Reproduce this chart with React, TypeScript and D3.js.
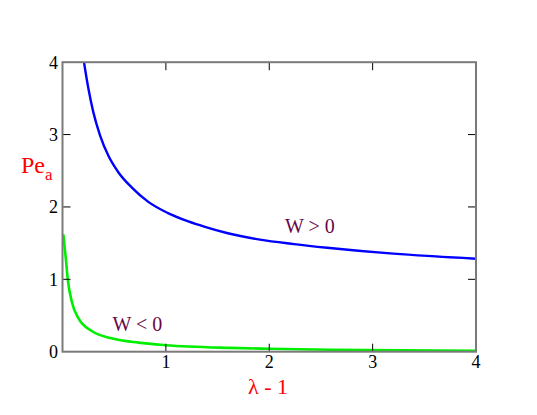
import React from "react";
import * as d3 from "d3";

const xTicks = [0, 1, 2, 3, 4];
const yTicks = [0, 1, 2, 3, 4];

const blueX = [0.19, 0.208, 0.25, 0.298, 0.363, 0.443, 0.54, 0.669, 0.83, 1.02, 1.217, 1.378, 1.59, 1.91, 2.24, 2.56, 3.2, 4.0];
const blueY = [4.17, 4.0, 3.64, 3.31, 2.99, 2.71, 2.48, 2.27, 2.07, 1.915, 1.80, 1.725, 1.64, 1.548, 1.487, 1.437, 1.355, 1.285];

const greenX = [0.008, 0.032, 0.051, 0.09, 0.155, 0.283, 0.476, 0.734, 1.0, 1.62, 2.0, 2.59, 4.0];
const greenY = [1.62, 1.29, 1.0, 0.69, 0.46, 0.286, 0.185, 0.125, 0.09, 0.053, 0.041, 0.027, 0.012];

const W = 537;
const H = 415;

export default function App() {
  const x = d3.scaleLinear().domain([0, 4]).range([62.5, 476]);
  const y = d3.scaleLinear().domain([0, 4]).range([351.7, 62.2]);

  const line = d3
    .line<[number, number]>()
    .x((d) => x(d[0]))
    .y((d) => y(d[1]))
    .curve(d3.curveMonotoneX);

  const blue = blueX.map((v, i) => [v, blueY[i]] as [number, number]);
  const green = greenX.map((v, i) => [v, greenY[i]] as [number, number]);

  const x0 = x(0), x1 = x(4), y0 = y(0), y1 = y(4);
  const font = "'Liberation Serif', 'Times New Roman', Times, serif";
  const maroon = "#670748";

  return (
    <svg
      width={W}
      height={H}
      style={{ position: "absolute", left: 0, top: 0, background: "#fff", fontFamily: font }}
    >
      <rect x={0} y={0} width={W} height={H} fill="#fff" />
      <defs>
        <clipPath id="plot">
          <rect x={x0} y={y1} width={x1 - x0} height={y0 - y1} />
        </clipPath>
      </defs>
      <g clipPath="url(#plot)">
        <path d={line(blue) || ""} fill="none" stroke="#0000ff" strokeWidth={2.4} />
        <path d={line(green) || ""} fill="none" stroke="#00ee00" strokeWidth={2.6} />
      </g>
      {xTicks.slice(1, -1).map((t) => (
        <g key={"xt" + t}>
          <line x1={x(t)} x2={x(t)} y1={y0} y2={y0 - 8} stroke="#000" strokeWidth={1} />
          <line x1={x(t)} x2={x(t)} y1={y1} y2={y1 + 8} stroke="#000" strokeWidth={1} />
        </g>
      ))}
      {yTicks.slice(1, -1).map((t) => (
        <g key={"yt" + t}>
          <line x1={x0} x2={x0 + 8} y1={y(t)} y2={y(t)} stroke="#000" strokeWidth={1} />
          <line x1={x1} x2={x1 - 8} y1={y(t)} y2={y(t)} stroke="#000" strokeWidth={1} />
        </g>
      ))}
      <rect
        x={x0}
        y={y1}
        width={x1 - x0}
        height={y0 - y1}
        fill="none"
        stroke="#7a7a7a"
        strokeWidth={2}
      />
      {xTicks.slice(1).map((t) => (
        <text key={"xl" + t} x={x(t)} y={y0 + 16.5} textAnchor="middle" fontSize={18} fill="#000" style={{ fontFamily: font }}>
          {t}
        </text>
      ))}
      {yTicks.map((t) => (
        <text key={"yl" + t} x={58} y={y(t) + 6.5} textAnchor="end" fontSize={18} fill="#000" style={{ fontFamily: font }}>
          {t}
        </text>
      ))}
      <text x={21} y={172.7} fontSize={24} fill="#ff0000" style={{ fontFamily: font }}>
        Pe
        <tspan fontSize={17} dy={7}>a</tspan>
      </text>
      <text x={268} y={394} textAnchor="middle" fontSize={22} fill="#ff0000" style={{ fontFamily: font }}>
        λ - 1
      </text>
      <text x={285} y={232.7} fontSize={20} fill={maroon} style={{ fontFamily: font }}>
        W &gt; 0
      </text>
      <text x={112.5} y={330.5} fontSize={20} fill={maroon} style={{ fontFamily: font }}>
        W &lt; 0
      </text>
    </svg>
  );
}
